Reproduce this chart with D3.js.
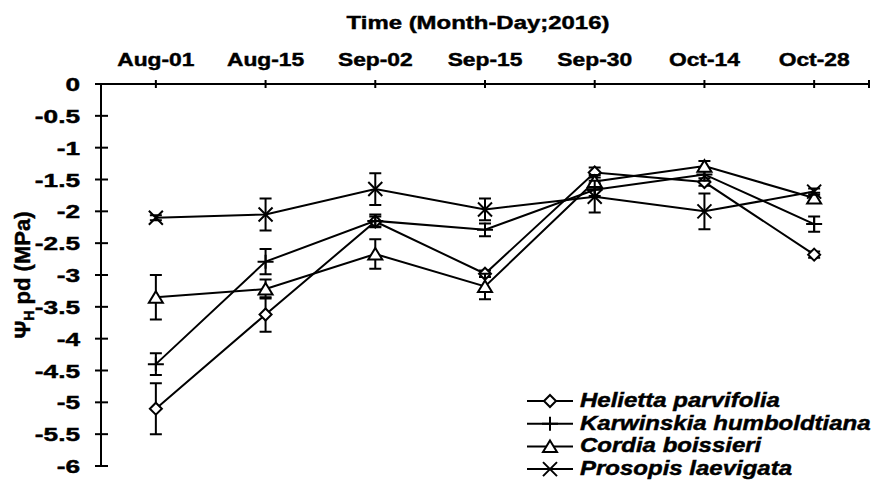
<!DOCTYPE html>
<html><head><meta charset="utf-8">
<script src="https://cdn.jsdelivr.net/npm/d3@7"></script>
<style>
html,body{margin:0;padding:0;background:#fff;}
text{font-family:"Liberation Sans",Arial,sans-serif;font-weight:bold;fill:#000;stroke:#000;stroke-width:0.45px;}
</style></head>
<body><svg id="c" width="872" height="480"></svg>
<script>
const categories = ["Aug-01","Aug-15","Sep-02","Sep-15","Sep-30","Oct-14","Oct-28"];
const seriesNames = ["Helietta parvifolia","Karwinskia humboldtiana","Cordia boissieri","Prosopis laevigata"];
const helietta   = [-5.1, -3.62, -2.16, -2.98, -1.39, -1.54, -2.68];
const karwinskia = [-4.4, -2.79, -2.15, -2.29, -1.66, -1.42, -2.2];
const cordia     = [-3.35, -3.22, -2.67, -3.18, -1.53, -1.29, -1.79];
const prosopis   = [-2.1, -2.05, -1.65, -1.97, -1.77, -2.0, -1.69];
const heliettaErr   = [0.4, 0.27, 0.08, 0.05, 0.08, 0.06, 0.05];
const karwinskiaErr = [0.17, 0.2, 0.1, 0.1, 0.1, 0.1, 0.12];
const cordiaErr     = [0.35, 0.15, 0.23, 0.2, 0.1, 0.08, 0.08];
const prosopisErr   = [0.04, 0.25, 0.25, 0.17, 0.25, 0.28, 0.05];
const yTicks = [0,-0.5,-1,-1.5,-2,-2.5,-3,-3.5,-4,-4.5,-5,-5.5,-6];
const xTitle = "Time (Month-Day;2016)";

const series = [
  {name: seriesNames[0], values: helietta, err: heliettaErr, marker: "diamond"},
  {name: seriesNames[1], values: karwinskia, err: karwinskiaErr, marker: "plus"},
  {name: seriesNames[2], values: cordia, err: cordiaErr, marker: "triangle"},
  {name: seriesNames[3], values: prosopis, err: prosopisErr, marker: "cross"}
];

const svg = d3.select("#c");
const L = 101, R = 869, T = 84, B = 466;
const x = d3.scaleBand().domain(categories).range([L, R]);
const xc = d => x(d) + x.bandwidth()/2;
const y = d3.scaleLinear().domain([0, -6]).range([T, B]);

// x axis (top)
const gx = svg.append("g").attr("transform", `translate(0,${T})`);
gx.append("line").attr("x1", L-6).attr("x2", R).attr("y1", 0).attr("y2", 0).attr("stroke","#000").attr("stroke-width",2);
categories.concat(["__end"]).forEach(c => {
  const xx = c === "__end" ? R : xc(c);
  gx.append("line").attr("x1", xx).attr("x2", xx).attr("y1", -4).attr("y2", 4).attr("stroke","#000").attr("stroke-width",2);
});
categories.forEach(c => {
  gx.append("text").attr("transform", `translate(${xc(c)},-18) scale(1.2,1)`)
    .attr("text-anchor","middle").style("font-size","19px").text(c);
});
svg.append("text").attr("transform", `translate(478,29) scale(1.26,1)`)
  .attr("text-anchor","middle").style("font-size","19px").text(xTitle);

// y axis
const gy = svg.append("g");
gy.append("line").attr("x1", L).attr("x2", L).attr("y1", T).attr("y2", B).attr("stroke","#000").attr("stroke-width",2);
yTicks.forEach(v => {
  gy.append("line").attr("x1", L-6).attr("x2", L+7).attr("y1", y(v)).attr("y2", y(v)).attr("stroke","#000").attr("stroke-width",2);
  gy.append("text").attr("transform", `translate(80,${y(v)+7}) scale(1.38,1)`)
    .attr("text-anchor","end").style("font-size","19px").text(String(v));
});

// y label
const yl = svg.append("text").attr("transform", `translate(30,${(T+B)/2}) rotate(-90)`)
  .attr("text-anchor","middle").style("font-size","22px");
yl.append("tspan").text("Ψ");
yl.append("tspan").attr("dy", 4).style("font-size","14px").text("H");
yl.append("tspan").attr("dy", -4).text(" pd (MPa)");

function drawMarker(g, type, cx, cy) {
  if (type === "diamond") {
    const s = 6;
    g.append("path").attr("d", `M${cx},${cy-s}L${cx+s},${cy}L${cx},${cy+s}L${cx-s},${cy}Z`)
      .attr("fill","#fff").attr("stroke","#000").attr("stroke-width",2);
  } else if (type === "triangle") {
    g.append("path").attr("d", `M${cx},${cy-6}L${cx+7},${cy+5.5}L${cx-7},${cy+5.5}Z`)
      .attr("fill","#fff").attr("stroke","#000").attr("stroke-width",2);
  } else if (type === "plus") {
    g.append("path").attr("d", `M${cx-8},${cy}L${cx+8},${cy}M${cx},${cy-7}L${cx},${cy+7}`)
      .attr("stroke","#000").attr("stroke-width",2);
  } else if (type === "cross") {
    g.append("path").attr("d", `M${cx-7},${cy-7}L${cx+7},${cy+7}M${cx+7},${cy-7}L${cx-7},${cy+7}`)
      .attr("stroke","#000").attr("stroke-width",2);
  }
}

const line = d3.line().x((d,i) => xc(categories[i])).y(d => y(d));
series.forEach(s => {
  const g = svg.append("g");
  g.append("path").attr("d", line(s.values)).attr("fill","none").attr("stroke","#000").attr("stroke-width",2);
  s.values.forEach((v,i) => {
    const cx = xc(categories[i]), e = s.err[i];
    g.append("path").attr("d", `M${cx},${y(v+e)}L${cx},${y(v-e)}M${cx-6},${y(v+e)}L${cx+6},${y(v+e)}M${cx-6},${y(v-e)}L${cx+6},${y(v-e)}`)
      .attr("stroke","#000").attr("stroke-width",2).attr("fill","none");
  });
  s.values.forEach((v,i) => drawMarker(g, s.marker, xc(categories[i]), y(v)));
});

// legend
const lg = svg.append("g");
series.forEach((s,i) => {
  const cy = 401 + i*22.7;
  lg.append("line").attr("x1",527).attr("x2",573).attr("y1",cy).attr("y2",cy).attr("stroke","#000").attr("stroke-width",2);
  drawMarker(lg, s.marker, 550, cy);
  lg.append("text").attr("transform", `translate(580,${cy+6}) scale(1.2,1)`)
    .style("font-size","20px").style("font-style","italic").text(s.name);
});
</script></body></html>
